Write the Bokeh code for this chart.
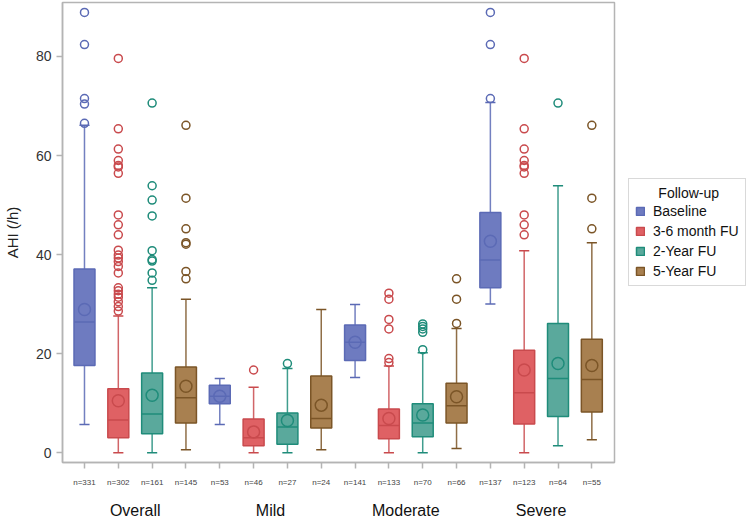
from bokeh.plotting import figure
from bokeh.models import (Range1d, FixedTicker, LinearAxis, Legend, LegendItem,
                          ColumnDataSource)
from bokeh.embed import file_html
from bokeh.resources import INLINE

# ---------------- data ----------------
groups = ["Overall", "Mild", "Moderate", "Severe"]
series = ["Baseline", "3-6 month FU", "2-Year FU", "5-Year FU"]
line_colors = ["#5b6ab5", "#c94a4d", "#1f8c7a", "#7b5527"]
fill_colors = ["#6e7bc0", "#df6164", "#5aa99c", "#a88050"]

# order: Overall(B,3-6,2Y,5Y), Mild(...), Moderate(...), Severe(...)
n_counts = [331, 302, 161, 145, 53, 46, 27, 24, 141, 133, 70, 66, 137, 123, 64, 55]
q1 = [17.6, 3.0, 3.8, 6.0, 9.9, 1.4, 1.7, 5.0, 18.6, 2.8, 3.2, 6.0, 33.3, 5.8, 7.3, 8.2]
median = [26.4, 6.6, 7.8, 11.1, 11.4, 3.0, 5.2, 6.9, 22.3, 5.5, 6.0, 9.5, 38.9, 12.1, 15.0, 14.8]
q3 = [37.1, 12.9, 16.1, 17.3, 13.6, 6.8, 8.0, 15.5, 25.8, 8.8, 9.9, 14.0, 48.5, 20.7, 26.1, 22.9]
mean = [28.9, 10.5, 11.6, 13.4, 11.4, 4.2, 6.5, 9.6, 22.3, 6.9, 7.6, 11.3, 42.7, 16.7, 18.0, 17.6]
whisker_low = [5.7, 0.0, 0.0, 0.6, 5.7, 0.0, 0.0, 0.6, 15.2, 0.0, 0.0, 0.85, 30.0, 0.0, 1.4, 2.6]
whisker_high = [66.1, 27.6, 33.3, 31.0, 15.0, 13.2, 17.0, 28.9, 29.9, 17.5, 20.2, 25.1, 70.7, 40.8, 53.9, 42.4]

outliers_overall = [
    [88.9, 82.4, 71.5, 70.4, 66.5],
    [79.6, 65.4, 61.3, 59.0, 58.0, 57.7, 56.4, 48.0, 46.0, 44.0, 40.9, 39.9, 39.3,
     38.6, 37.6, 36.3, 33.3, 32.7, 32.0, 31.4, 30.5, 29.5, 28.6],
    [70.6, 53.9, 51.0, 47.8, 40.8, 39.0, 38.7, 36.3, 34.8],
    [66.1, 51.4, 45.2, 42.4, 42.1, 36.6, 35.1],
]
outliers_mild = [[], [16.7], [18.0], []]
outliers_moderate = [
    [],
    [32.2, 31.0, 26.9, 25.0, 19.0, 18.2],
    [26.0, 25.5, 25.0, 24.3, 20.8],
    [35.1, 31.0, 26.1],
]
outliers_severe = [
    [88.9, 82.4, 71.5],
    [79.6, 65.4, 61.3, 59.0, 58.0, 57.7, 56.4, 48.0, 46.0, 44.0],
    [70.6],
    [66.1, 51.4, 45.2],
]
y_ticks = [0, 20, 40, 60, 80]
y_title = "AHI (/h)"
legend_title = "Follow-up"

# ---------------- figure ----------------
FONT = "Liberation Sans"
GRAY = "#b4b4b4"
p = figure(width=733, height=516, output_backend="svg", toolbar_location=None,
           x_range=Range1d(-0.65, 15.67), y_range=Range1d(-1.98, 90.9),
           min_border_left=56, min_border_top=2, min_border_bottom=0,
           frame_width=552, frame_height=460)
p.xgrid.visible = False
p.ygrid.visible = False
p.outline_line_color = GRAY
p.outline_line_width = 1.5
p.background_fill_color = "white"

all_outliers = outliers_overall + outliers_mild + outliers_moderate + outliers_severe
box_w = 0.62
cap_w = 0.15

legend_items = []
for s, name in enumerate(series):
    idx = [g * 4 + s for g in range(len(groups))]
    xs = [float(i) for i in idx]
    src = ColumnDataSource(dict(
        x=xs,
        q1=[q1[i] for i in idx], q3=[q3[i] for i in idx],
        med=[median[i] for i in idx], mean=[mean[i] for i in idx],
        lo=[whisker_low[i] for i in idx], hi=[whisker_high[i] for i in idx],
        xl=[x - box_w / 2 for x in xs], xr=[x + box_w / 2 for x in xs],
        cl=[x - cap_w for x in xs], cr=[x + cap_w for x in xs],
    ))
    lc = line_colors[s]
    # whiskers
    p.segment(x0="x", y0="q3", x1="x", y1="hi", source=src, line_color=lc, line_width=1.5, line_alpha=0.85)
    p.segment(x0="x", y0="q1", x1="x", y1="lo", source=src, line_color=lc, line_width=1.5, line_alpha=0.85)
    p.segment(x0="cl", y0="hi", x1="cr", y1="hi", source=src, line_color=lc, line_width=1.5)
    p.segment(x0="cl", y0="lo", x1="cr", y1="lo", source=src, line_color=lc, line_width=1.5)
    # box
    r = p.vbar(x="x", bottom="q1", top="q3", width=box_w, source=src,
               fill_color=fill_colors[s], line_color=lc, line_width=1.5)
    legend_items.append(LegendItem(label=name, renderers=[r]))
    # median
    p.segment(x0="xl", y0="med", x1="xr", y1="med", source=src, line_color=lc, line_width=1.5)
    # mean
    p.scatter(x="x", y="mean", source=src, marker="circle", size=12,
              fill_color=None, line_color=lc, line_width=1.5)
    # outliers
    ox, oy = [], []
    for i in idx:
        for v in all_outliers[i]:
            ox.append(float(i))
            oy.append(v)
    p.scatter(ox, oy, marker="circle", size=8, fill_color=None, line_color=lc, line_width=1.5)

# y axis
p.yaxis.ticker = FixedTicker(ticks=y_ticks)
p.yaxis.axis_label = y_title
p.yaxis.axis_label_text_font = FONT
p.yaxis.axis_label_text_font_size = "15px"
p.yaxis.axis_label_text_font_style = "normal"
p.yaxis.axis_label_text_color = "#222222"
p.yaxis.axis_label_standoff = 12
p.yaxis.major_label_text_font = FONT
p.yaxis.major_label_text_font_size = "14px"
p.yaxis.major_label_text_color = "#333333"
p.yaxis.axis_line_color = GRAY
p.yaxis.axis_line_width = 1.5
p.yaxis.major_tick_line_color = GRAY
p.yaxis.major_tick_line_width = 1.5
p.yaxis.major_tick_out = 6
p.yaxis.major_tick_in = 0
p.yaxis.minor_tick_line_color = None

# x axis with n labels
positions = list(range(len(n_counts)))
p.xaxis.ticker = FixedTicker(ticks=positions)
p.xaxis.major_label_overrides = {i: f"n={n}" for i, n in enumerate(n_counts)}
p.xaxis.major_label_text_font = FONT
p.xaxis.major_label_text_font_size = "8px"
p.xaxis.major_label_text_color = "#444444"
p.xaxis.major_label_standoff = 9
p.xaxis.axis_line_color = GRAY
p.xaxis.axis_line_width = 1.5
p.xaxis.major_tick_line_color = GRAY
p.xaxis.major_tick_line_width = 1.5
p.xaxis.major_tick_out = 6
p.xaxis.major_tick_in = 0
p.xaxis.minor_tick_line_color = None

# group axis
centers = [g * 4 + 1.5 for g in range(len(groups))]
gax = LinearAxis(ticker=FixedTicker(ticks=centers),
                 major_label_overrides={c: g for c, g in zip(centers, groups)})
gax.axis_line_color = None
gax.major_tick_line_color = None
gax.minor_tick_line_color = None
gax.major_label_text_font = FONT
gax.major_label_text_font_size = "16px"
gax.major_label_text_color = "#111111"
gax.major_label_standoff = 6
p.add_layout(gax, "below")

legend = Legend(items=legend_items, title="\u00a0" * 6 + legend_title, location="center_left")
legend.title_text_font = FONT
legend.title_text_font_size = "14px"
legend.title_text_font_style = "normal"
legend.title_text_color = "#111111"
legend.title_standoff = 2
legend.label_text_font = FONT
legend.label_text_font_size = "14px"
legend.label_text_color = "#111111"
legend.glyph_width = 10
legend.glyph_height = 10
legend.label_height = 15
legend.label_standoff = 8
legend.spacing = 4
legend.padding = 6
legend.margin = 14
legend.border_line_color = GRAY
legend.border_line_width = 1.5
p.add_layout(legend, "right")

open("out.html", "w").write(file_html(p, INLINE))
